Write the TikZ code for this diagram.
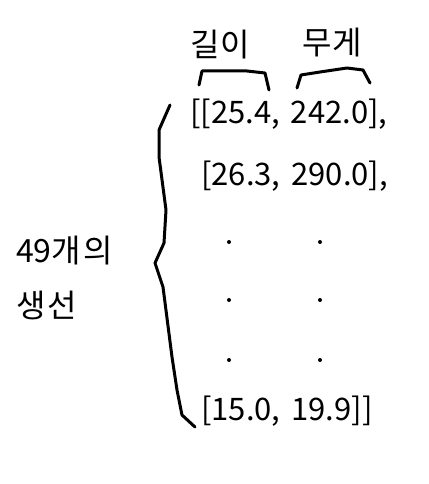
\documentclass[tikz,border=0pt]{standalone}
\usepackage{fontspec}
\setmainfont{Noto Sans CJK KR}
\begin{document}
\begin{tikzpicture}[x=1pt,y=-1pt,
  txt/.style={inner sep=0pt,font=\fontsize{31}{33}\selectfont},
  ktxt/.style={inner sep=0pt,font=\fontsize{32}{34}\selectfont},
  brace/.style={line width=3pt,line join=round,line cap=round},
  dotmark/.style={fill=black,circle,inner sep=0pt,minimum size=4pt}]
\useasboundingbox (0,0) rectangle (428,484);
\node[txt,anchor=west] (r1) at (190,114) {[[25.4,\hspace{4pt} 242.0],};
\node[txt,anchor=west] (r2) at (201,176) {[26.3,\hspace{4pt} 290.0],};
\node[txt,anchor=west] (r3) at (201,411) {[15.0,\hspace{4pt} 19.9]]};
\node[ktxt] (len) at (220,45) {길이};
\node[ktxt] (wgt) at (332,43) {무게};
\node[ktxt,anchor=west] (cnt) at (16,251) {49개\hspace{2pt}의};
\node[ktxt,anchor=west] (fish) at (16,305) {생\hspace{2pt}선};
\foreach \y [count=\i] in {242,300,360}{
  \node[dotmark] (dl\i) at (229,\y) {};
  \node[dotmark] (dr\i) at (320,\y) {};
}
\draw[brace] (199,85) -- (202,71) -- (247,71) -- (265,73) -- (269,90);
\draw[brace] (297,88) -- (301,75) -- (320,72) -- (347,68) -- (363,70) -- (370,83);
\draw[brace] (170,105) -- (159,130) -- (159,157) -- (166,210) -- (164,243) -- (155,263)
  -- (163,287) -- (172,357) -- (177,390) -- (182,415) -- (195,427);
\end{tikzpicture}
\end{document}
